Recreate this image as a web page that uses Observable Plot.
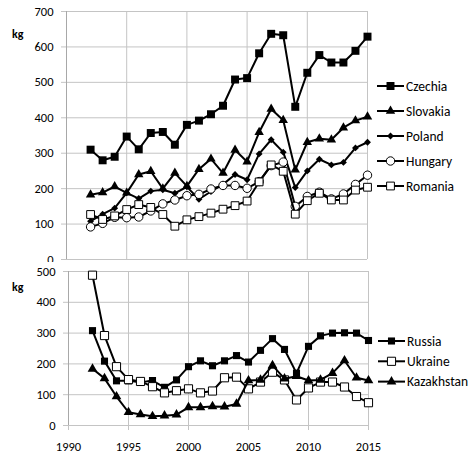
<!DOCTYPE html>
<html><head><meta charset="utf-8">
<script src="https://cdn.jsdelivr.net/npm/d3@7"></script>
<script src="https://cdn.jsdelivr.net/npm/@observablehq/plot@0.6"></script>
<style>
body{margin:0;background:#fff;}
#chart{position:relative;width:470px;height:459px;font-family:Carlito,Lato,sans-serif;overflow:hidden;}
#top{position:absolute;left:0;top:0;}
#bottom{position:absolute;left:0;top:262px;background:#fff;}
#bottom svg,#top svg{display:block;background:transparent;}
#bottom svg{background:#fff;}
.kg{position:absolute;font-weight:bold;font-size:12px;line-height:12px;}
#legend{position:absolute;left:0;top:0;pointer-events:none;}
</style></head><body>
<div id="chart">
  <div id="top"></div>
  <div id="bottom"></div>
  <div class="kg" style="left:12px;top:28px;">kg</div>
  <div class="kg" style="left:12px;top:281px;">kg</div>
  <svg id="legend" width="470" height="459"></svg>
</div>
<script>
const years = d3.range(1992, 2016);

// Upper panel series (kg)
const czechia  = [310, 280, 290, 347, 311, 357, 360, 324, 380, 392, 410, 434, 508, 512, 582, 637, 633, 431, 527, 577, 556, 556, 589, 629];
const slovakia = [183, 189, 206, 188, 240, 249, 200, 244, 207, 255, 284, 244, 309, 276, 359, 425, 393, 253, 331, 341, 338, 372, 392, 403];
const poland   = [108, 128, 145, 188, 172, 193, 197, 187, 205, 170, 192, 212, 240, 225, 298, 338, 303, 203, 250, 283, 267, 274, 315, 331];
const hungary  = [92, 102, 119, 118, 120, 137, 157, 168, 180, 184, 199, 209, 209, 201, 220, 265, 275, 150, 178, 190, 171, 185, 212, 238];
const romania  = [127, 113, 123, 141, 155, 147, 127, 94, 112, 121, 131, 142, 152, 165, 219, 267, 249, 128, 166, 187, 168, 168, 196, 204];

// Lower panel series (kg)
const russia     = [308, 209, 145, 145, 140, 146, 124, 148, 191, 210, 194, 210, 227, 206, 244, 282, 247, 170, 257, 291, 300, 301, 300, 276];
const ukraine    = [488, 292, 191, 149, 143, 126, 106, 113, 119, 106, 112, 155, 157, 119, 141, 173, 148, 83, 122, 141, 141, 125, 94, 74];
const kazakhstan = [184, 153, 94, 43, 36, 30, 32, 35, 59, 59, 62, 61, 70, 146, 148, 195, 152, 160, 146, 148, 170, 211, 155, 146];

const topNames = ["Czechia", "Slovakia", "Poland", "Hungary", "Romania"];
const topValues = [czechia, slovakia, poland, hungary, romania];
const bottomNames = ["Russia", "Ukraine", "Kazakhstan"];
const bottomValues = [russia, ukraine, kazakhstan];

const topYTicks = [0, 100, 200, 300, 400, 500, 600, 700];
const bottomYTicks = [0, 100, 200, 300, 400, 500];
const xTicks = [1990, 1995, 2000, 2005, 2010, 2015];

// Marker styles
const styles = {
  Czechia:   {symbol: "square",   r: 4.5, fill: "#000", stroke: "none"},
  Slovakia:  {symbol: "triangle", r: 3.5, fill: "#000", stroke: "none"},
  Poland:    {symbol: "diamond2", r: 3.1, fill: "#000", stroke: "none"},
  Hungary:   {symbol: "circle",   r: 4.2, fill: "#fff", stroke: "#000"},
  Romania:   {symbol: "square",   r: 4.4, fill: "#fff", stroke: "#000"},
  Russia:    {symbol: "square",   r: 4.0, fill: "#000", stroke: "none"},
  Ukraine:   {symbol: "square",   r: 4.6, fill: "#fff", stroke: "#000"},
  Kazakhstan:{symbol: "triangle", r: 3.6, fill: "#000", stroke: "none"}
};

function toRows(names, values) {
  const rows = [];
  names.forEach((n, i) => years.forEach((y, j) => rows.push({series: n, year: y, value: values[i][j]})));
  return rows;
}

function seriesMarks(rows, names) {
  const marks = [];
  for (const n of names) {
    const d = rows.filter(r => r.series === n);
    const s = styles[n];
    marks.push(Plot.line(d, {x: "year", y: "value", stroke: "#000", strokeWidth: 2}));
    marks.push(Plot.dot(d, {x: "year", y: "value", symbol: s.symbol, r: s.r, fill: s.fill, stroke: s.stroke, strokeWidth: 1}));
  }
  return marks;
}

const GRID = "#c4c4c4";
const AXIS = "#a8a8a8";
const FONT = "Carlito, Lato, sans-serif";

const topRows = toRows(topNames, topValues);
const topPlot = Plot.plot({
  width: 470, height: 262,
  marginLeft: 66, marginRight: 103, marginTop: 11, marginBottom: 3,
  style: {fontFamily: FONT, fontSize: "12px", color: "#000", background: "transparent", overflow: "visible"},
  x: {domain: [1990, 2015], axis: null},
  y: {domain: [0, 700]},
  marks: [
    Plot.ruleY(topYTicks, {stroke: GRID}),
    Plot.ruleX(xTicks.slice(1), {stroke: GRID}),
    Plot.ruleX([1990], {stroke: AXIS}),
    Plot.axisY({ticks: topYTicks, tickSize: 5, tickPadding: 8, stroke: GRID, fill: "#000", fontSize: 12.5, label: null}),
    ...seriesMarks(topRows, topNames)
  ]
});
document.getElementById("top").appendChild(topPlot);

const bottomRows = toRows(bottomNames, bottomValues);
const bottomPlot = Plot.plot({
  width: 470, height: 197,
  marginLeft: 68, marginRight: 102, marginTop: 9, marginBottom: 34,
  style: {fontFamily: FONT, fontSize: "12px", color: "#000", background: "#fff"},
  x: {domain: [1990, 2015]},
  y: {domain: [0, 500]},
  marks: [
    Plot.ruleY(bottomYTicks, {stroke: GRID}),
    Plot.ruleX(xTicks.slice(1), {stroke: GRID}),
    Plot.ruleX([1990], {stroke: AXIS}),
    Plot.axisY({ticks: bottomYTicks, tickSize: 5, tickPadding: 8, stroke: GRID, fill: "#000", fontSize: 12.5, label: null}),
    Plot.axisX({ticks: xTicks, tickSize: 5, tickPadding: 12, stroke: GRID, fill: "#000", fontSize: 12.5, tickFormat: d => String(d), label: null}),
    ...seriesMarks(bottomRows, bottomNames)
  ]
});
document.getElementById("bottom").appendChild(bottomPlot);

// Legends
const legend = d3.select("#legend");
function drawLegend(names, x0, y0, dy) {
  names.forEach((n, i) => {
    const s = styles[n];
    const y = y0 + i * dy;
    const g = legend.append("g");
    g.append("line").attr("x1", x0).attr("x2", x0 + 27).attr("y1", y).attr("y2", y)
      .attr("stroke", "#000").attr("stroke-width", 2);
    const symMap = {square: d3.symbolSquare, triangle: d3.symbolTriangle, diamond2: d3.symbolDiamond2, circle: d3.symbolCircle};
    g.append("path").attr("d", d3.symbol(symMap[s.symbol], Math.PI * s.r * s.r)())
      .attr("transform", `translate(${x0 + 13.5},${y})`)
      .attr("fill", s.fill).attr("stroke", s.stroke === "none" ? null : s.stroke).attr("stroke-width", 1);
    g.append("text").attr("x", x0 + 29).attr("y", y).attr("dy", "0.35em")
      .attr("font-family", FONT).attr("font-size", 13.5).attr("fill", "#000").text(n);
  });
}
drawLegend(topNames, 377, 86, 25);
drawLegend(bottomNames, 378, 341, 20.3);
</script>
</body></html>
